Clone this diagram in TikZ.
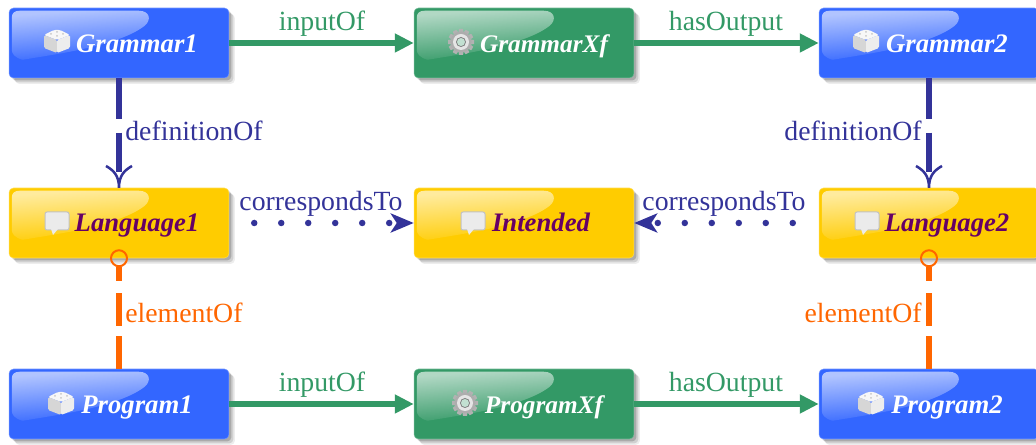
\documentclass[tikz,border=0pt]{standalone}
\usepackage{fontspec}
\setmainfont{Liberation Serif}
\usepackage{xcolor}
\usetikzlibrary{arrows.meta,shadows,fadings}

\definecolor{boxblue}{HTML}{3366FF}
\definecolor{boxgreen}{HTML}{339966}
\definecolor{boxyellow}{HTML}{FFCC00}
\definecolor{linknavy}{HTML}{333399}
\definecolor{linkorange}{HTML}{FF6600}
\definecolor{textpurple}{HTML}{660066}

\tikzfading[name=glarefade, top color=transparent!38, bottom color=transparent!98]

\tikzset{
    box/.style={rectangle, rounded corners=.09cm, minimum width=4.4cm, minimum height=1.4cm,
        line width=.3pt, inner sep=0pt,
        drop shadow={shadow xshift=.12cm, shadow yshift=-.12cm, fill=black, opacity=.07},
        drop shadow={shadow xshift=.09cm, shadow yshift=-.09cm, fill=black, opacity=.12},
        drop shadow={shadow xshift=.05cm, shadow yshift=-.05cm, fill=black, opacity=.18}},
    bluebox/.style={box, fill=boxblue, draw=boxblue!70!white},
    greenbox/.style={box, fill=boxgreen, draw=boxgreen!70!white},
    yellowbox/.style={box, fill=boxyellow, draw=boxyellow!70!white},
    whitetext/.style={text=white, font=\fontsize{15.2}{17}\selectfont\bfseries\itshape, inner sep=0pt, text height=.42cm, text depth=.1cm},
    purpletext/.style={text=textpurple, font=\fontsize{15.2}{17}\selectfont\bfseries\itshape, inner sep=0pt, text height=.42cm, text depth=.1cm},
    xftext/.style={whitetext, font=\fontsize{14.4}{17}\selectfont\bfseries\itshape},
    linklabel/.style={font=\fontsize{15.8}{18}\selectfont, inner sep=0pt, text height=.42cm, text depth=.1cm},
    greenlink/.style={draw=boxgreen, line width=.125cm, -{Triangle[length=.38cm, width=.36cm]}},
    deflink/.style={draw=linknavy, line width=.125cm, dash pattern=on .82cm off .27cm on 2cm},
    deffork/.style={draw=linknavy, line width=.05cm},
    dotlink/.style={draw=linknavy, line width=.13cm, line cap=round, dash pattern=on 0pt off .54cm,
        -{Stealth[length=.46cm, width=.38cm, inset=.12cm, line cap=butt]}},
    elemlink/.style={draw=linkorange, line width=.125cm, dash pattern=on .28cm off .24cm on .66cm off .2cm on 2cm},
    elemring/.style={circle, draw=linkorange, line width=.04cm, minimum size=.32cm, inner sep=0pt},
    glare/.pic={
        \fill[white, path fading=glarefade, fading angle=12] (3,10) .. controls (3,5) and (6,3) .. (11,3) -- (130,3)
            .. controls (141,3) and (143,12) .. (136,18) .. controls (110,38) and (50,46) .. (14,52)
            .. controls (6,50) and (3,46) .. (3,42) -- cycle;
    },
    cubeicon/.pic={
        \fill[black!3, rounded corners=.03cm] (-13,-6) -- (-3,-11) -- (3,-11) -- (13,-6) -- (0,-1) -- cycle;
        \fill[black!16, rounded corners=.03cm] (-13,-6) -- (0,-1) -- (0,12) -- (-13,7) -- cycle;
        \fill[black!7, rounded corners=.03cm] (13,-6) -- (0,-1) -- (0,12) -- (13,7) -- cycle;
        \foreach \sx/\sy in {-6/-7,0/-9,6/-7,0/-5}
            \fill[black!22] (\sx,\sy) circle (1);
    },
    bubbleicon/.pic={
        \fill[black!24, rounded corners=.05cm] (-12.5,-10.5) rectangle (12.5,8.5);
        \fill[black!8, rounded corners=.04cm] (-11.5,-9.5) rectangle (11.5,7.5);
        \fill[black!8] (-6,7) -- (-4,13) -- (1,7) -- cycle;
    },
    gearicon/.pic={
        \foreach \a in {0,30,...,330}
            \fill[black!30, rotate=\a] (-2.5,-9) -- (-2,-13) -- (2,-13) -- (2.5,-9) -- cycle;
        \fill[black!32] (0,0) circle (10.5);
        \fill[black!10] (0,0) circle (8);
        \fill[black!50] (0,0) circle (5);
        \fill[boxgreen!30!white] (0,0) circle (4);
    },
}

\begin{document}
\begin{tikzpicture}[x=.02cm, y=-.02cm]
    \useasboundingbox (0,0) rectangle (1036,445);

    % the boxes
    \node[bluebox] (gram1) at (119,43) {};
    \node[greenbox] (gramxf) at (524,43) {};
    \node[bluebox] (gram2) at (929,43) {};
    \node[yellowbox] (lang1) at (119,223) {};
    \node[yellowbox] (intended) at (524,223) {};
    \node[yellowbox] (lang2) at (929,223) {};
    \node[bluebox] (prog1) at (119,404) {};
    \node[greenbox] (progxf) at (524,404) {};
    \node[bluebox] (prog2) at (929,404) {};

    \foreach \n in {gram1,gramxf,gram2,lang1,intended,lang2,prog1,progxf,prog2}
        \pic at (\n.north west) {glare};

    \pic at (57,41) {cubeicon};
    \pic at (461,42) {gearicon};
    \pic at (866,41) {cubeicon};
    \pic at (57,222) {bubbleicon};
    \pic at (473,222) {bubbleicon};
    \pic at (867,222) {bubbleicon};
    \pic at (61,403) {cubeicon};
    \pic at (465,403) {gearicon};
    \pic at (871,403) {cubeicon};

    \node[whitetext] (gram1txt) at (137,45) {Grammar1};
    \node[xftext] (gramxftxt) at (544,45) {GrammarXf};
    \node[whitetext] (gram2txt) at (947,45) {Grammar2};
    \node[purpletext] (lang1txt) at (137,224) {Language1};
    \node[purpletext] (intendedtxt) at (541,224) {Intended};
    \node[purpletext] (lang2txt) at (947,224) {Language2};
    \node[whitetext] (prog1txt) at (137,406) {Program1};
    \node[xftext] (progxftxt) at (544,406) {ProgramXf};
    \node[whitetext] (prog2txt) at (947,406) {Program2};

    % the links
    \draw[greenlink] (gram1) -- (gramxf);
    \draw[greenlink] (gramxf) -- (gram2);
    \draw[greenlink] (prog1) -- (progxf);
    \draw[greenlink] (progxf) -- (prog2);

    \coordinate (def1end) at (119,172);
    \coordinate (def2end) at (929,172);
    \draw[deflink] (gram1) -- (def1end);
    \draw[deflink] (gram2) -- (def2end);
    \draw[deffork] (106,166) .. controls (113,170) and (119,175) .. (lang1.north) .. controls (119,175) and (125,170) .. (132,166);
    \draw[deffork] (916,166) .. controls (923,170) and (929,175) .. (lang2.north) .. controls (929,175) and (935,170) .. (942,166);

    \draw[dotlink, dash phase=.04cm] (lang1) -- (intended);
    \draw[dotlink, dash phase=.02cm] (lang2) -- (intended);

    \node[elemring] (ring1) at (lang1.south) {};
    \node[elemring] (ring2) at (lang2.south) {};
    \draw[elemlink] (ring1) -- (prog1);
    \draw[elemlink] (ring2) -- (prog2);

    % the labels
    \node[linklabel, text=boxgreen] (in1) at (322,23) {inputOf};
    \node[linklabel, text=boxgreen] (out1) at (726,23) {hasOutput};
    \node[linklabel, text=boxgreen] (in2) at (322,384) {inputOf};
    \node[linklabel, text=boxgreen] (out2) at (726,384) {hasOutput};
    \node[linklabel, text=linknavy, anchor=west] (def1) at (125,133) {definitionOf};
    \node[linklabel, text=linknavy, anchor=east] (def2) at (922,133) {definitionOf};
    \node[linklabel, text=linknavy] (cor1) at (321,203) {correspondsTo};
    \node[linklabel, text=linknavy] (cor2) at (724,203) {correspondsTo};
    \node[linklabel, text=linkorange, anchor=west] (elem1) at (125,315) {elementOf};
    \node[linklabel, text=linkorange, anchor=east] (elem2) at (922,315) {elementOf};
\end{tikzpicture}
\end{document}
